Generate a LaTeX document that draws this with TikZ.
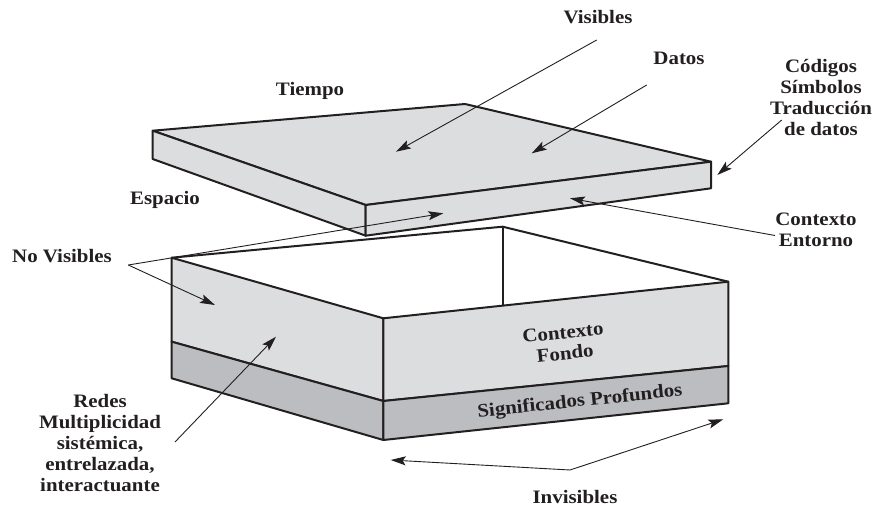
\documentclass[tikz,border=0pt]{standalone}
\usepackage{fontspec}
\setmainfont{Liberation Serif}[FakeStretch=1.1]
\usetikzlibrary{arrows.meta}
\definecolor{lidgray}{HTML}{DCDDDF}
\definecolor{bandgray}{HTML}{BCBDC0}
\definecolor{ink}{HTML}{231F20}
\tikzset{
  edge/.style={draw=ink, line width=2pt, line join=round},
  arr/.style={draw=ink, line width=0.9pt, -{Stealth[length=15pt,width=9pt,inset=3pt]}},
  lbl/.style={font=\fontsize{19}{21}\selectfont\bfseries, text=ink, align=center, inner sep=0pt},
}
\begin{document}
\begin{tikzpicture}[x=1pt, y=-1pt]
\useasboundingbox (0,0) rectangle (879,508);

\coordinate (lidL) at (152.7,130.7);
\coordinate (lidB) at (465,104);
\coordinate (lidR) at (711,161.7);
\coordinate (lidF) at (365.7,205);
\coordinate (lidLd) at (152.7,159);
\coordinate (lidFd) at (365.7,235.7);
\coordinate (lidRd) at (711,188.3);

\coordinate (boxL) at (171.7,257.7);
\coordinate (boxB) at (502.7,226.7);
\coordinate (boxR) at (728.3,281.7);
\coordinate (boxF) at (383.3,318.3);
\coordinate (boxLm) at (171.7,341.7);
\coordinate (boxFm) at (383.3,401);
\coordinate (boxRm) at (728.3,366);
\coordinate (boxLd) at (171.7,378.3);
\coordinate (boxFd) at (383.3,440);
\coordinate (boxRd) at (728.3,403.3);
\coordinate (boxIn) at (502.7,305.6);

% caja
\filldraw[edge, fill=lidgray] (boxL) -- (boxF) -- (boxFm) -- (boxLm) -- cycle;
\filldraw[edge, fill=bandgray] (boxLm) -- (boxFm) -- (boxFd) -- (boxLd) -- cycle;
\filldraw[edge, fill=lidgray] (boxF) -- (boxR) -- (boxRm) -- (boxFm) -- cycle;
\filldraw[edge, fill=bandgray] (boxFm) -- (boxRm) -- (boxRd) -- (boxFd) -- cycle;
\draw[edge] (boxL) -- (boxB) -- (boxR);
\draw[edge, line width=1.6pt] (boxB) -- (boxIn);

% tapa
\filldraw[edge, fill=lidgray] (lidL) -- (lidB) -- (lidR) -- (lidF) -- cycle;
\filldraw[edge, fill=lidgray] (lidL) -- (lidF) -- (lidFd) -- (lidLd) -- cycle;
\filldraw[edge, fill=lidgray] (lidF) -- (lidR) -- (lidRd) -- (lidFd) -- cycle;

\node[lbl] (visibles) at (598,17) {Visibles};
\node[lbl] (datos) at (679,58) {Datos};
\node[lbl] (tiempo) at (310,91) {Tiempo};
\node[lbl] (espacio) at (165,200) {Espacio};
\node[lbl] (codigos) at (821,97) {Códigos\\Símbolos\\Traducción\\de datos};
\node[lbl] (entorno) at (816,230) {Contexto\\Entorno};
\node[lbl] (novis) at (62,256) {No Visibles};
\node[lbl, rotate=6] (fondo) at (564,343) {Contexto\\Fondo};
\node[lbl, rotate=6] (signif) at (580,402) {Significados Profundos};
\node[lbl] (redes) at (100,443) {Redes\\Multiplicidad\\sistémica,\\entrelazada,\\interactuante};
\node[lbl] (invis) at (575,497) {Invisibles};

\coordinate (visA) at (596.7,40);
\coordinate (visB) at (396,151.7);
\coordinate (datA) at (646.7,85);
\coordinate (datB) at (531.7,153.3);
\coordinate (codA) at (781.7,120);
\coordinate (codB) at (717.3,175);
\coordinate (entA) at (775,235.5);
\coordinate (entB) at (570,198.3);
\coordinate (nvO) at (128.3,265);
\coordinate (nvA) at (443.3,213.3);
\coordinate (nvB) at (215,305);
\coordinate (redA) at (175,442);
\coordinate (redB) at (276,336.7);
\coordinate (invO) at (570,470);
\coordinate (invA) at (390.7,460);
\coordinate (invB) at (723.3,419.3);

\draw[arr] (visA) -- (visB);
\draw[arr] (datA) -- (datB);
\draw[arr] (codA) -- (codB);
\draw[arr] (entA) -- (entB);
\draw[arr] (nvO) -- (nvA);
\draw[arr] (nvO) -- (nvB);
\draw[arr] (redA) -- (redB);
\draw[arr] (invO) -- (invA);
\draw[arr] (invO) -- (invB);
\end{tikzpicture}
\end{document}
